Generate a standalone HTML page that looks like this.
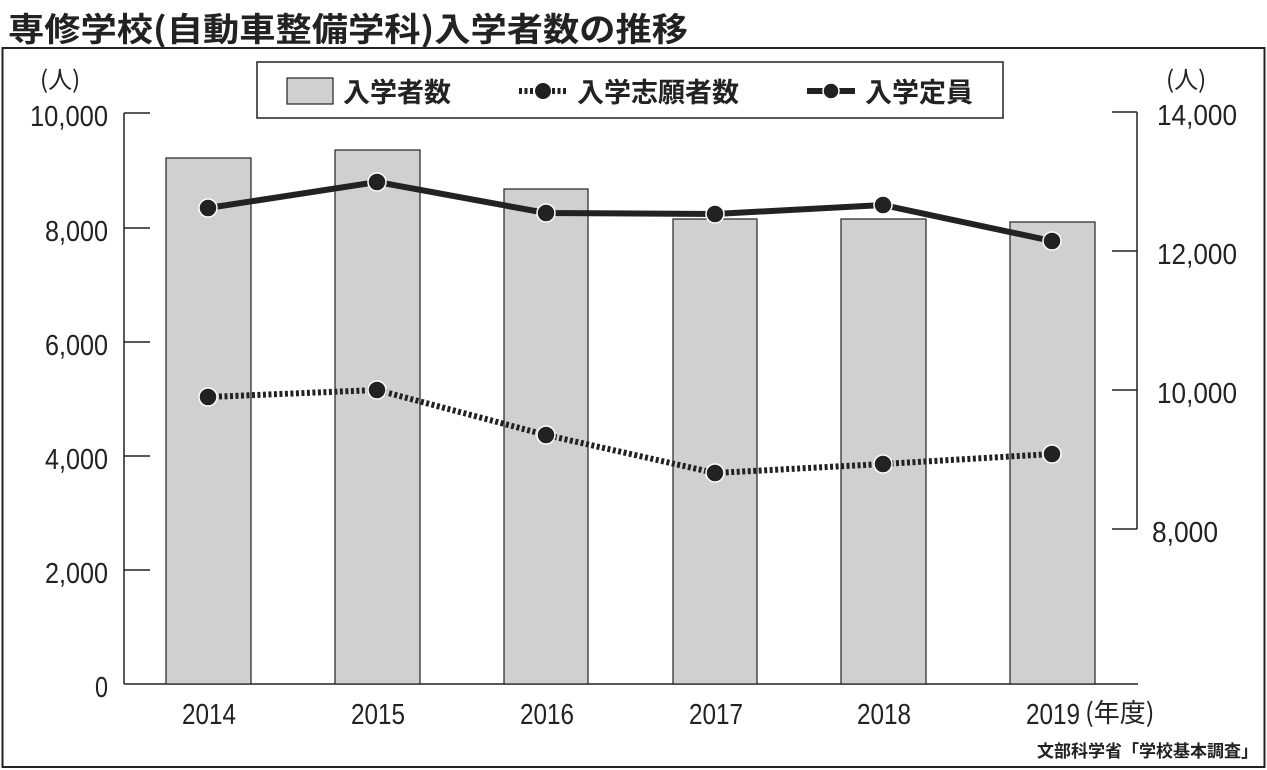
<!DOCTYPE html>
<html><head><meta charset="utf-8"><style>
body{margin:0;background:#fff;}
svg{display:block;font-family:"Liberation Sans","Noto Sans CJK JP",sans-serif;}
</style></head><body>
<svg width="1267" height="770" viewBox="0 0 1267 770" xmlns="http://www.w3.org/2000/svg">
<rect x="0" y="0" width="1267" height="770" fill="#fff"/>
<text x="8" y="41" font-size="33" font-weight="bold" fill="#222" font-family="Noto Sans CJK JP, sans-serif" textLength="680" lengthAdjust="spacingAndGlyphs">専修学校(自動車整備学科)入学者数の推移</text>
<rect x="2.5" y="48" width="1262" height="719" fill="none" stroke="#222" stroke-width="2"/>
<!-- legend -->
<rect x="257" y="62" width="746" height="56" fill="#fff" stroke="#222" stroke-width="1.5"/>
<rect x="287" y="78" width="46" height="26" fill="#d0d0d0" stroke="#222" stroke-width="1.2"/>
<text x="343" y="102" font-size="27" fill="#222" font-family="Noto Sans CJK JP, sans-serif" font-weight="bold">入学者数</text>
<line x1="519" y1="91" x2="567" y2="91" stroke="#222" stroke-width="6" stroke-dasharray="3,2.5"/>
<circle cx="543" cy="91" r="8" fill="#222"/>
<text x="577" y="102" font-size="27" fill="#222" font-family="Noto Sans CJK JP, sans-serif" font-weight="bold">入学志願者数</text>
<line x1="807" y1="91" x2="855" y2="91" stroke="#222" stroke-width="6"/>
<circle cx="831" cy="91" r="8" fill="#222" stroke="#fff" stroke-width="1.5"/>
<text x="865" y="102" font-size="27" fill="#222" font-family="Noto Sans CJK JP, sans-serif" font-weight="bold">入学定員</text>
<!-- left axis -->
<text x="40" y="88" font-size="24" fill="#222" font-family="Noto Sans CJK JP, sans-serif">(人)</text>
<g stroke="#222" stroke-width="1.5" fill="none">
<line x1="124" y1="113" x2="124" y2="684"/>
<line x1="124" y1="113" x2="150" y2="113"/>
<line x1="124" y1="228" x2="150" y2="228"/>
<line x1="124" y1="342" x2="150" y2="342"/>
<line x1="124" y1="456" x2="150" y2="456"/>
<line x1="124" y1="570" x2="150" y2="570"/>
<line x1="124" y1="684" x2="1138" y2="684"/>
<line x1="1137" y1="112" x2="1137" y2="529"/>
<line x1="1112" y1="112" x2="1137" y2="112"/>
<line x1="1112" y1="251" x2="1137" y2="251"/>
<line x1="1112" y1="390" x2="1137" y2="390"/>
<line x1="1112" y1="529" x2="1137" y2="529"/>
</g>
<g font-size="29" fill="#222" lengthAdjust="spacingAndGlyphs">
<text x="30" y="126" textLength="78" lengthAdjust="spacingAndGlyphs">10,000</text>
<text x="45" y="241" textLength="63" lengthAdjust="spacingAndGlyphs">8,000</text>
<text x="45" y="355" textLength="63" lengthAdjust="spacingAndGlyphs">6,000</text>
<text x="45" y="469" textLength="63" lengthAdjust="spacingAndGlyphs">4,000</text>
<text x="45" y="583" textLength="63" lengthAdjust="spacingAndGlyphs">2,000</text>
<text x="95" y="697" textLength="13" lengthAdjust="spacingAndGlyphs">0</text>
</g>
<text x="1166" y="88" font-size="24" fill="#222" font-family="Noto Sans CJK JP, sans-serif">(人)</text>
<g font-size="29" fill="#222">
<text x="1157" y="125" textLength="80" lengthAdjust="spacingAndGlyphs">14,000</text>
<text x="1157" y="264" textLength="80" lengthAdjust="spacingAndGlyphs">12,000</text>
<text x="1157" y="403" textLength="80" lengthAdjust="spacingAndGlyphs">10,000</text>
<text x="1152" y="542" textLength="66" lengthAdjust="spacingAndGlyphs">8,000</text>
</g>
<!-- bars -->
<g fill="#d0d0d0" stroke="#222" stroke-width="1.2">
<rect x="166" y="158" width="85" height="526"/>
<rect x="335" y="150" width="85" height="534"/>
<rect x="504" y="189" width="84" height="495"/>
<rect x="673" y="219" width="84" height="465"/>
<rect x="841" y="219" width="85" height="465"/>
<rect x="1010" y="222" width="85" height="462"/>
</g>
<!-- x labels -->
<g font-size="29" fill="#222">
<text x="182" y="724" textLength="54" lengthAdjust="spacingAndGlyphs">2014</text>
<text x="351" y="724" textLength="54" lengthAdjust="spacingAndGlyphs">2015</text>
<text x="520" y="724" textLength="54" lengthAdjust="spacingAndGlyphs">2016</text>
<text x="689" y="724" textLength="54" lengthAdjust="spacingAndGlyphs">2017</text>
<text x="857" y="724" textLength="54" lengthAdjust="spacingAndGlyphs">2018</text>
<text x="1026" y="724" textLength="54" lengthAdjust="spacingAndGlyphs">2019</text>
</g>
<text x="1085" y="722" font-size="26" fill="#222" font-family="Noto Sans CJK JP, sans-serif">(年度)</text>
<text x="1258" y="757" font-size="17" font-weight="bold" fill="#222" text-anchor="end" font-family="Noto Sans CJK JP, sans-serif">文部科学省「学校基本調査」</text>
<!-- lines -->
<polyline points="208,397 377,390 546,435 715,473 883,464 1052,454" fill="none" stroke="#222" stroke-width="6" stroke-dasharray="3,2.5"/>
<polyline points="208,208 377,182 546,213 715,214 883,205 1052,241" fill="none" stroke="#222" stroke-width="6"/>
<g fill="#222" stroke="#fff" stroke-width="1.5">
<circle cx="208" cy="397" r="9"/><circle cx="377" cy="390" r="9"/><circle cx="546" cy="435" r="9"/>
<circle cx="715" cy="473" r="9"/><circle cx="883" cy="464" r="9"/><circle cx="1052" cy="454" r="9"/>
<circle cx="208" cy="208" r="9"/><circle cx="377" cy="182" r="9"/><circle cx="546" cy="213" r="9"/>
<circle cx="715" cy="214" r="9"/><circle cx="883" cy="205" r="9"/><circle cx="1052" cy="241" r="9"/>
</g>
</svg>
</body></html>
